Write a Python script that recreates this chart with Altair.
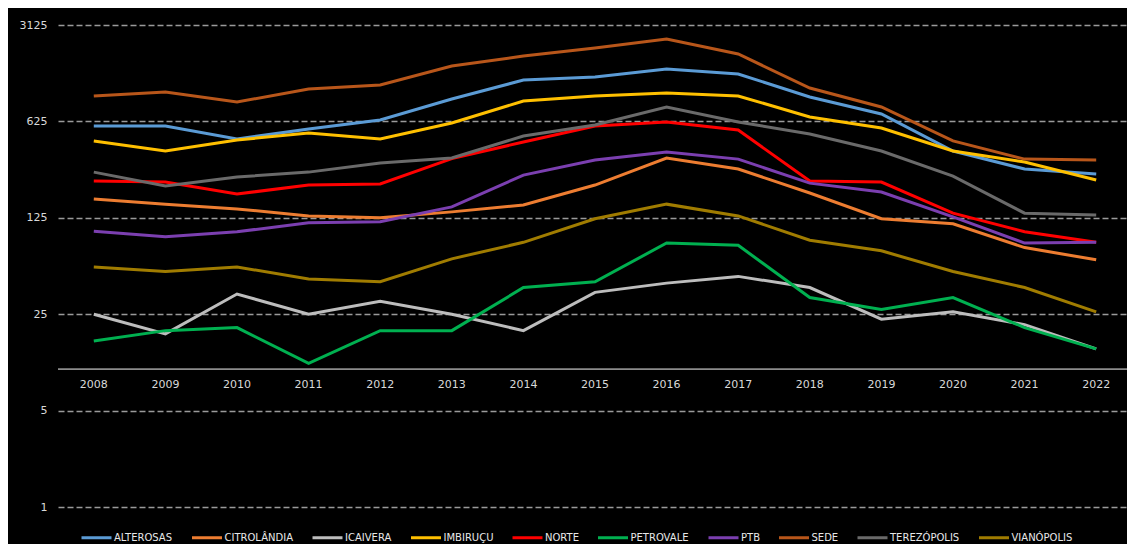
import altair as alt
import pandas as pd

years = list(range(2008, 2023))

series_names = ["ALTEROSAS", "CITROLÂNDIA", "ICAIVERA", "IMBIRUÇU", "NORTE",
                "PETROVALE", "PTB", "SEDE", "TEREZÓPOLIS", "VIANÓPOLIS"]
series_colors = ["#5B9BD5", "#ED7D31", "#BDBDBD", "#FFC000", "#FF0000",
                 "#00B050", "#7B3FB0", "#B8561A", "#6A6A6A", "#A07C00"]

alterosas   = [578, 578, 466, 550, 640, 908, 1247, 1312, 1499, 1380, 940, 708, 381, 282, 260]
citrolandia = [171, 157, 145, 129, 125, 138, 155, 216, 339, 282, 189, 123, 113, 76, 62]
icaivera    = [25, 18, 35, 25, 31, 25, 19, 36, 42, 47, 39, 23, 26, 21, 14]
imbirucu    = [451, 381, 458, 515, 466, 608, 879, 956, 1004, 956, 673, 560, 381, 317, 235]
norte       = [231, 227, 186, 216, 220, 336, 443, 578, 619, 541, 231, 227, 135, 99, 83]
petrovale   = [16, 19, 20, 11, 19, 19, 39, 43, 82, 79, 33, 27, 33, 20, 14]
ptb         = [100, 91, 99, 115, 117, 150, 255, 328, 375, 333, 223, 192, 127, 82, 83]
sede        = [956, 1021, 864, 1074, 1148, 1576, 1861, 2128, 2475, 1925, 1091, 795, 451, 333, 328]
terezopolis = [268, 213, 247, 268, 312, 339, 490, 588, 795, 619, 506, 381, 251, 135, 131]
vianopolis  = [55, 51, 55, 45, 43, 63, 83, 123, 157, 129, 86, 72, 51, 39, 26]

y_ticks = [1, 5, 25, 125, 625, 3125]
x_axis_cross = [10]

all_values = [alterosas, citrolandia, icaivera, imbirucu, norte,
              petrovale, ptb, sede, terezopolis, vianopolis]

rows = []
for name, vals in zip(series_names, all_values):
    for yr, v in zip(years, vals):
        rows.append({"ano": yr, "serie": name, "valor": v})
df = pd.DataFrame(rows)
df_years = pd.DataFrame({"ano": years, "base": [x_axis_cross[0]] * len(years)})
df_cross = pd.DataFrame({"base": x_axis_cross})

FONT = "DejaVu Sans"
TXT = "#d9d9d9"

x_enc = alt.X("ano:O", scale=alt.Scale(type="point", padding=0.5), axis=None)
y_scale = alt.Scale(type="log", base=5, domain=[1, 3125], nice=False)

axis_line = alt.Chart(df_cross).mark_rule(color="#8c8c8c", strokeWidth=1.8).encode(
    y=alt.Y("base:Q", scale=y_scale, title=None)
)

lines = alt.Chart(df).mark_line(strokeWidth=3).encode(
    x=x_enc,
    y=alt.Y("valor:Q", scale=y_scale, title=None,
            axis=alt.Axis(values=y_ticks, format="d", grid=True, gridDash=[6, 3],
                          gridColor="#9a9a9a", gridWidth=1.3, domain=False, ticks=False,
                          labelPadding=11, labelFont=FONT, labelFontSize=11,
                          labelColor=TXT, title=None)),
    color=alt.Color("serie:N",
                    scale=alt.Scale(domain=series_names, range=series_colors),
                    sort=series_names,
                    legend=alt.Legend(orient="none", legendX=22, legendY=496,
                                      direction="horizontal", columns=10, title=None,
                                      symbolType="stroke", symbolSize=900,
                                      symbolStrokeWidth=3, labelOffset=1,
                                      columnPadding=12.5, labelFont=FONT,
                                      labelFontSize=10, labelColor="#e8e8e8")),
    order=alt.Order("ano:O"),
    detail="serie:N",
)

x_labels = alt.Chart(df_years).mark_text(dy=16, font=FONT, fontSize=11, color=TXT).encode(
    x=x_enc,
    y=alt.Y("base:Q", scale=y_scale, title=None),
    text=alt.Text("ano:O"),
)

chart = alt.layer(axis_line, lines, x_labels).properties(
    width=1074,
    height=482,
    padding={"left": 50, "top": 17, "right": -5, "bottom": 37},
    autosize=alt.AutoSizeParams(type="none"),
    background="black",
).configure_view(stroke=None)

chart.save("out.html", embed_options={"renderer": "svg", "actions": False})
